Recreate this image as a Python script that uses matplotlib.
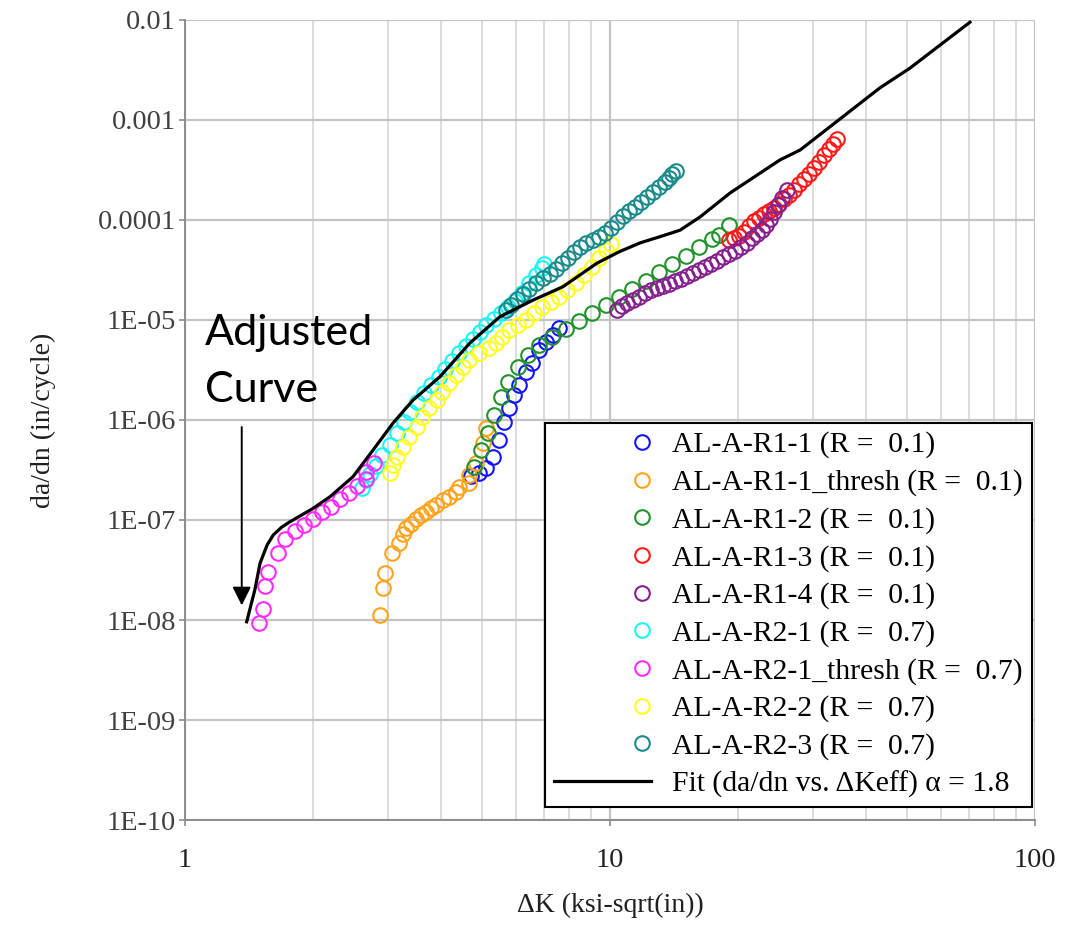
import matplotlib
matplotlib.use("Agg")
import matplotlib.pyplot as plt
from matplotlib.legend_handler import HandlerLine2D

# --- values (dK in ksi-sqrt(in), da/dn in in/cycle) ---
K_R1_1 = [4.72, 4.925, 5.12, 5.31, 5.488, 5.64, 5.794, 5.95, 6.115, 6.35, 6.56, 6.81, 7.07, 7.35, 7.59]
DADN_R1_1 = [2.75e-7, 2.95e-7, 3.31e-7, 4.27e-7, 6.31e-7, 9.55e-7, 1.32e-6, 1.78e-6, 2.24e-6,
             3.02e-6, 3.72e-6, 5.01e-6, 6.03e-6, 7.08e-6, 8.32e-6]

K_R1_1T = [2.884, 2.931, 2.948, 3.066, 3.18, 3.267, 3.315, 3.405, 3.499, 3.594, 3.693, 3.794,
           3.898, 4.04, 4.189, 4.343, 4.421, 4.667, 4.667, 4.838, 5.014, 5.107]
DADN_R1_1T = [1.12e-8, 2.07e-8, 2.93e-8, 4.71e-8, 5.93e-8, 7.19e-8, 8.26e-8, 9.06e-8, 1.02e-7,
              1.12e-7, 1.21e-7, 1.31e-7, 1.41e-7, 1.58e-7, 1.71e-7, 1.92e-7, 2.15e-7, 2.33e-7,
              2.82e-7, 3.69e-7, 5.85e-7, 8.26e-7]

K_R1_2 = [4.79, 4.97, 5.15, 5.34, 5.54, 5.74, 6.06, 6.40, 6.813, 7.32, 7.87, 8.456, 9.09, 9.77,
          10.5, 11.28, 12.14, 13.03, 14.01, 15.06, 16.18, 17.39, 18.03, 19.03]
DADN_R1_2 = [3.41e-7, 5.0e-7, 7.36e-7, 1.12e-6, 1.71e-6, 2.42e-6, 3.41e-6, 4.47e-6, 5.62e-6,
             6.81e-6, 8.13e-6, 9.77e-6, 1.17e-5, 1.41e-5, 1.69e-5, 2.03e-5, 2.45e-5, 3.0e-5,
             3.63e-5, 4.4e-5, 5.33e-5, 6.46e-5, 7.08e-5, 8.9e-5]

K_R1_3 = [19.03, 19.55, 20.08, 20.63, 21.2, 21.78, 22.38, 22.99, 23.62, 24.27, 24.93, 25.62,
          26.32, 27.04, 27.78, 28.54, 29.32, 30.13, 30.95, 31.8, 32.67, 33.4, 34.12]
DADN_R1_3 = [6.31e-5, 6.61e-5, 6.92e-5, 7.59e-5, 8.71e-5, 9.77e-5, 1.05e-4, 1.15e-4, 1.23e-4,
             1.32e-4, 1.45e-4, 1.62e-4, 1.78e-4, 2.0e-4, 2.29e-4, 2.57e-4, 2.88e-4, 3.31e-4,
             3.8e-4, 4.47e-4, 5.13e-4, 5.75e-4, 6.46e-4]

K_R1_4 = [10.38, 10.67, 10.97, 11.33, 11.7, 12.09, 12.48, 12.89, 13.32, 13.76, 14.21, 14.68,
          15.16, 15.67, 16.18, 16.71, 17.27, 17.84, 18.43, 19.03, 19.66, 20.31, 20.98, 21.55,
          22.14, 22.75, 23.25, 23.75, 24.27, 24.8, 25.33, 26.05]
DADN_R1_4 = [1.26e-5, 1.38e-5, 1.48e-5, 1.58e-5, 1.7e-5, 1.86e-5, 2.0e-5, 2.09e-5, 2.19e-5,
             2.29e-5, 2.45e-5, 2.57e-5, 2.75e-5, 2.95e-5, 3.16e-5, 3.39e-5, 3.63e-5, 3.89e-5,
             4.27e-5, 4.57e-5, 4.9e-5, 5.37e-5, 5.89e-5, 6.61e-5, 7.24e-5, 7.94e-5, 8.91e-5,
             1.02e-4, 1.2e-4, 1.41e-4, 1.66e-4, 2.0e-4]

K_R2_1 = [2.604, 2.66, 2.719, 2.81, 2.91, 3.029, 3.15, 3.27, 3.39, 3.52, 3.65, 3.8, 3.95, 4.1,
          4.26, 4.421, 4.59, 4.77, 4.95, 5.12, 5.34, 5.55, 5.76, 5.99, 6.22, 6.455, 6.7, 6.92, 7.0]
DADN_R2_1 = [2.09e-7, 2.51e-7, 2.88e-7, 3.47e-7, 4.47e-7, 5.62e-7, 7.41e-7, 9.55e-7, 1.2e-6,
             1.51e-6, 1.86e-6, 2.24e-6, 2.69e-6, 3.24e-6, 3.89e-6, 4.68e-6, 5.5e-6, 6.46e-6,
             7.59e-6, 8.91e-6, 1.02e-5, 1.17e-5, 1.35e-5, 1.55e-5, 1.86e-5, 2.34e-5, 2.82e-5,
             3.31e-5, 3.63e-5]

K_R2_1T = [1.492, 1.527, 1.541, 1.569, 1.651, 1.723, 1.812, 1.905, 2.001, 2.097, 2.201, 2.312,
           2.427, 2.544, 2.67, 2.66, 2.777]
DADN_R2_1T = [9.4e-9, 1.28e-8, 2.19e-8, 3.0e-8, 4.65e-8, 6.4e-8, 7.8e-8, 8.9e-8, 1.03e-7,
              1.19e-7, 1.36e-7, 1.61e-7, 1.87e-7, 2.2e-7, 2.57e-7, 3.0e-7, 3.69e-7]

K_R2_2 = [3.029, 3.08, 3.15, 3.26, 3.375, 3.51, 3.62, 3.759, 3.91, 4.03, 4.189, 4.35, 4.5,
          4.667, 4.925, 5.2, 5.4, 5.58, 5.794, 6.06, 6.35, 6.63, 6.92, 7.27, 7.59, 7.92, 8.31,
          8.69, 9.09, 9.424, 9.78, 10.05]
DADN_R2_2 = [2.95e-7, 3.55e-7, 4.27e-7, 5.37e-7, 6.76e-7, 8.51e-7, 1.07e-6, 1.32e-6, 1.58e-6,
             1.91e-6, 2.34e-6, 2.82e-6, 3.39e-6, 3.98e-6, 4.68e-6, 5.25e-6, 5.89e-6, 6.76e-6,
             7.94e-6, 8.91e-6, 1.0e-5, 1.17e-5, 1.35e-5, 1.51e-5, 1.7e-5, 2.0e-5, 2.34e-5,
             2.82e-5, 3.39e-5, 4.17e-5, 5.01e-5, 5.75e-5]

K_R2_3 = [5.7, 5.86, 6.05, 6.25, 6.455, 6.7, 6.96, 7.23, 7.47, 7.71, 7.97, 8.23, 8.5, 8.78,
          9.12, 9.424, 9.73, 10.05, 10.38, 10.73, 11.08, 11.45, 11.82, 12.22, 12.62, 13.03,
          13.46, 13.76, 13.99, 14.3]
DADN_R2_3 = [1.26e-5, 1.41e-5, 1.62e-5, 1.82e-5, 2.04e-5, 2.34e-5, 2.63e-5, 2.88e-5, 3.24e-5,
             3.72e-5, 4.17e-5, 4.79e-5, 5.37e-5, 5.89e-5, 6.31e-5, 6.76e-5, 7.41e-5, 8.32e-5,
             9.55e-5, 1.1e-4, 1.23e-4, 1.35e-4, 1.51e-4, 1.7e-4, 1.91e-4, 2.14e-4, 2.4e-4,
             2.63e-4, 2.88e-4, 3.09e-4]

# fit: da/dn vs dKeff, alpha = 1.8 (adjusted curve)
FIT_K = [1.397, 1.46, 1.502, 1.56, 1.614, 1.69, 1.766, 1.88, 2.004, 2.194, 2.485, 2.77, 3.086,
         3.44, 3.981, 4.684, 5.511, 6.59, 7.75, 9.32, 10.5, 11.77, 13.1, 14.61, 16.28, 19.16,
         25.1, 28.0, 43.2, 50.8, 70.3]
FIT_DADN = [9.6e-9, 2.0e-8, 3.7e-8, 5.6e-8, 7.1e-8, 8.5e-8, 9.6e-8, 1.12e-7, 1.31e-7, 1.71e-7,
            2.71e-7, 5.0e-7, 9.3e-7, 1.58e-6, 2.71e-6, 5.9e-6, 1.08e-5, 1.58e-5, 2.15e-5,
            3.7e-5, 4.8e-5, 5.9e-5, 6.8e-5, 7.9e-5, 1.07e-4, 1.86e-4, 3.98e-4, 5.0e-4, 2.1e-3,
            3.3e-3, 9.5e-3]

SERIES = [
    ("AL-A-R1-1 (R =  0.1)", K_R1_1, DADN_R1_1, "#1414ff"),
    ("AL-A-R1-1_thresh (R =  0.1)", K_R1_1T, DADN_R1_1T, "#ffa31a"),
    ("AL-A-R1-2 (R =  0.1)", K_R1_2, DADN_R1_2, "#22922a"),
    ("AL-A-R1-3 (R =  0.1)", K_R1_3, DADN_R1_3, "#ff1a1a"),
    ("AL-A-R1-4 (R =  0.1)", K_R1_4, DADN_R1_4, "#85208f"),
    ("AL-A-R2-1 (R =  0.7)", K_R2_1, DADN_R2_1, "#1af5f5"),
    ("AL-A-R2-1_thresh (R =  0.7)", K_R2_1T, DADN_R2_1T, "#ff2bff"),
    ("AL-A-R2-2 (R =  0.7)", K_R2_2, DADN_R2_2, "#ffff1a"),
    ("AL-A-R2-3 (R =  0.7)", K_R2_3, DADN_R2_3, "#1a8a8a"),
]
FIT_LABEL = "Fit (da/dn vs. \u0394Keff) \u03b1 = 1.8"
Y_TICKS = [1e-10, 1e-9, 1e-8, 1e-7, 1e-6, 1e-5, 1e-4, 1e-3, 1e-2]
Y_TICKLABELS = ["1E-10", "1E-09", "1E-08", "1E-07", "1E-06", "1E-05", "0.0001", "0.001", "0.01"]
X_TICKS = [1, 10, 100]


class MarkerRight(HandlerLine2D):
    # put the legend marker near the right end of the handle, like Excel does
    def create_artists(self, legend, orig_handle, xdescent, ydescent, width, height,
                       fontsize, trans):
        arts = super().create_artists(legend, orig_handle, xdescent, ydescent, width,
                                      height, fontsize, trans)
        for a in arts:
            if a.get_marker() not in (None, "None", ""):
                a.set_xdata([width * 0.9 - xdescent])
        return arts


def main():
    plt.rcParams["font.family"] = ["Liberation Serif", "DejaVu Serif"]
    fig = plt.figure(figsize=(10.68, 9.33), dpi=100)
    ax = fig.add_axes([0.1732, 0.1211, 0.7959, 0.8575])

    handles = []
    for label, k, d, c in SERIES:
        h, = ax.plot(k, d, "o", ls="none", mfc="none", mec=c, ms=10.5, mew=1.5, label=label)
        handles.append(h)
    hf, = ax.plot(FIT_K, FIT_DADN, "-", color="black", lw=2.3, label=FIT_LABEL, zorder=5)
    handles.append(hf)

    ax.set_xscale("log")
    ax.set_yscale("log")
    ax.set_xlim(1, 100)
    ax.set_ylim(1e-10, 1e-2)
    ax.set_yticks(Y_TICKS)
    ax.set_yticklabels(Y_TICKLABELS)
    ax.set_xticks(X_TICKS)
    ax.set_xticklabels([str(t) for t in X_TICKS])
    ax.yaxis.set_minor_locator(matplotlib.ticker.NullLocator())
    ax.tick_params(which="major", direction="out", length=4.5, width=1.2, color="#8c8c8c",
                   labelsize=20.5, labelcolor="#404040", pad=2)
    ax.tick_params(which="minor", length=0)
    ax.tick_params(axis="x", labelcolor="#202020", pad=16)

    ax.grid(True, which="major", color="#c4c4c4", lw=1.6)
    ax.grid(True, which="minor", axis="x", color="#d2d2d2", lw=1.1)
    ax.set_axisbelow(True)
    for s in ("top", "right"):
        ax.spines[s].set_visible(False)
    for s in ("left", "bottom"):
        ax.spines[s].set_color("#8c8c8c")
        ax.spines[s].set_linewidth(1.4)

    ax.set_xlabel("\u0394K (ksi-sqrt(in))", fontsize=20, color="#202020", labelpad=14)
    ax.set_ylabel("da/dn (in/cycle)", fontsize=20, color="#202020", labelpad=30)

    leg = ax.legend(handles=handles, loc="lower right", bbox_to_anchor=(0.996, 0.0165),
                    fontsize=21.3, frameon=True, fancybox=False, framealpha=1,
                    edgecolor="black", handlelength=3.3, handletextpad=0.7,
                    labelspacing=0.36, borderpad=0.3, borderaxespad=0, numpoints=1,
                    handler_map={h: MarkerRight() for h in handles[:-1]})
    leg.get_frame().set_linewidth(1.5)
    leg.set_zorder(10)

    # "Adjusted Curve" callout
    ax.text(0.0235, 0.594, "Adjusted", transform=ax.transAxes, fontsize=31,
            family=["Lato", "DejaVu Sans"], va="baseline", ha="left")
    ax.text(0.0235, 0.523, "Curve", transform=ax.transAxes, fontsize=31,
            family=["Lato", "DejaVu Sans"], va="baseline", ha="left")
    ax.annotate("", xy=(1.36, 1.4e-8), xytext=(1.36, 8.5e-7),
                arrowprops=dict(arrowstyle="-|>", color="black", lw=1.4,
                                mutation_scale=28, shrinkA=0, shrinkB=0))

    fig.savefig("out.png", dpi=100)


if __name__ == "__main__":
    main()
